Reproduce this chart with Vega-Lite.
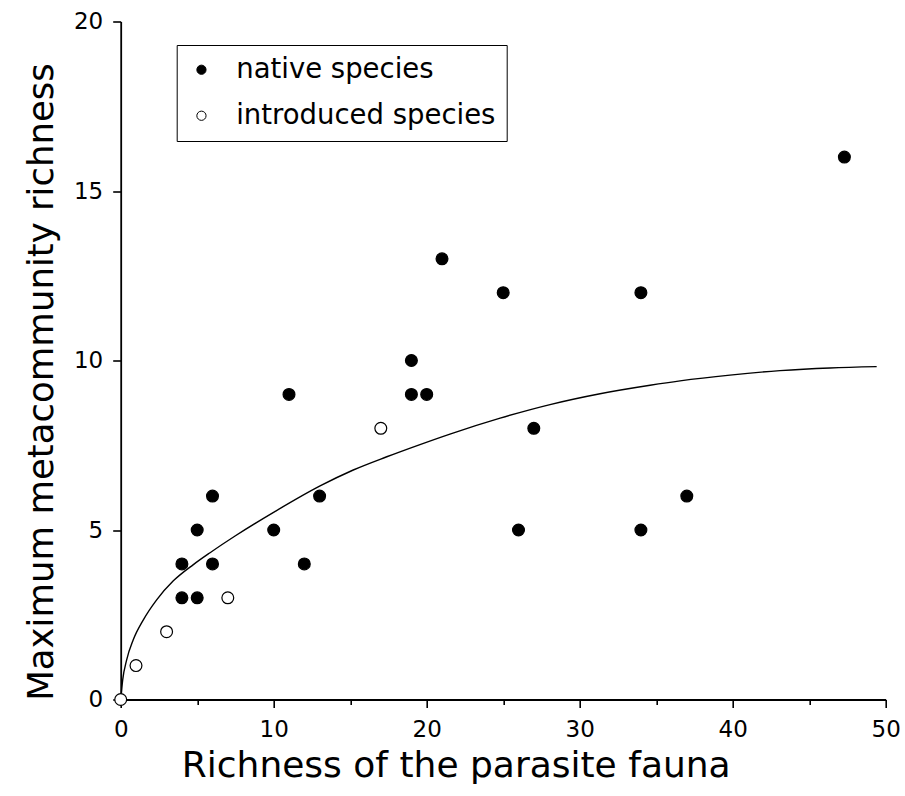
{
  "$schema": "https://vega.github.io/schema/vega-lite/v6.json",
  "width": 765,
  "height": 678,
  "autosize": {"type": "none"},
  "padding": {"left": 120.7, "top": 21.5, "right": 19.3, "bottom": 96.5},
  "background": "white",
  "config": {
    "view": {"stroke": null},
    "font": "DejaVu Sans",
    "axis": {
      "grid": false,
      "domainColor": "black",
      "domainWidth": 1.8,
      "tickColor": "black",
      "tickWidth": 1.6,
      "tickSize": 8,
      "labelColor": "black",
      "labelFont": "DejaVu Sans",
      "labelFontSize": 23,
      "labelFlush": false,
      "titleColor": "black",
      "titleFont": "DejaVu Sans",
      "titleFontWeight": "normal"
    }
  },
  "datasets": {
    "points": [
      {"parasite": 4, "richness": 3, "origin": "native species"},
      {"parasite": 4, "richness": 4, "origin": "native species"},
      {"parasite": 5, "richness": 3, "origin": "native species"},
      {"parasite": 5, "richness": 5, "origin": "native species"},
      {"parasite": 6, "richness": 4, "origin": "native species"},
      {"parasite": 6, "richness": 6, "origin": "native species"},
      {"parasite": 10, "richness": 5, "origin": "native species"},
      {"parasite": 11, "richness": 9, "origin": "native species"},
      {"parasite": 12, "richness": 4, "origin": "native species"},
      {"parasite": 13, "richness": 6, "origin": "native species"},
      {"parasite": 19, "richness": 10, "origin": "native species"},
      {"parasite": 19, "richness": 9, "origin": "native species"},
      {"parasite": 20, "richness": 9, "origin": "native species"},
      {"parasite": 21, "richness": 13, "origin": "native species"},
      {"parasite": 25, "richness": 12, "origin": "native species"},
      {"parasite": 26, "richness": 5, "origin": "native species"},
      {"parasite": 27, "richness": 8, "origin": "native species"},
      {"parasite": 34, "richness": 12, "origin": "native species"},
      {"parasite": 34, "richness": 5, "origin": "native species"},
      {"parasite": 37, "richness": 6, "origin": "native species"},
      {"parasite": 47.3, "richness": 16, "origin": "native species"},
      {"parasite": 0, "richness": 0, "origin": "introduced species"},
      {"parasite": 1, "richness": 1, "origin": "introduced species"},
      {"parasite": 3, "richness": 2, "origin": "introduced species"},
      {"parasite": 7, "richness": 3, "origin": "introduced species"},
      {"parasite": 17, "richness": 8, "origin": "introduced species"}
    ],
    "curve": [
      {"parasite": 0, "richness": 0},
      {"parasite": 0.13, "richness": 0.58},
      {"parasite": 0.39, "richness": 1.17},
      {"parasite": 0.82, "richness": 1.76},
      {"parasite": 1.48, "richness": 2.35},
      {"parasite": 2.35, "richness": 2.94},
      {"parasite": 3.44, "richness": 3.5},
      {"parasite": 4.75, "richness": 3.98},
      {"parasite": 5.84, "richness": 4.33},
      {"parasite": 7.5, "richness": 4.83},
      {"parasite": 10.1, "richness": 5.55},
      {"parasite": 13.03, "richness": 6.3},
      {"parasite": 15.2, "richness": 6.77},
      {"parasite": 17.39, "richness": 7.16},
      {"parasite": 19.56, "richness": 7.52},
      {"parasite": 21.52, "richness": 7.83},
      {"parasite": 24.8, "richness": 8.3},
      {"parasite": 28.06, "richness": 8.7},
      {"parasite": 31.33, "richness": 9.02},
      {"parasite": 34.6, "richness": 9.27},
      {"parasite": 36.56, "richness": 9.4},
      {"parasite": 39.82, "richness": 9.57},
      {"parasite": 43.09, "richness": 9.7},
      {"parasite": 46.36, "richness": 9.78},
      {"parasite": 49.41, "richness": 9.82}
    ]
  },
  "encoding": {
    "y": {
      "field": "richness",
      "type": "quantitative",
      "scale": {"domain": [0, 20], "nice": false},
      "axis": {
        "title": "Maximum metacommunity richness",
        "values": [0, 5, 10, 15, 20],
        "labelPadding": 10,
        "titleFontSize": 35.5,
        "titlePadding": 14,
        "titleY": 360
      }
    }
  },
  "layer": [
    {
      "data": {"name": "curve"},
      "mark": {"type": "line", "color": "black", "strokeWidth": 1.4, "interpolate": "monotone"},
      "encoding": {
        "x": {
          "field": "parasite",
          "type": "quantitative",
          "scale": {"domain": [0, 50], "nice": false},
          "axis": {
            "orient": "bottom",
            "values": [5, 15, 25, 35, 45],
            "labels": false,
            "domain": false,
            "tickSize": 5,
            "title": null
          }
        }
      }
    },
    {
      "data": {"name": "points"},
      "mark": {"type": "point", "filled": true, "stroke": "black", "strokeWidth": 1.2, "size": 140, "opacity": 1},
      "encoding": {
        "x": {
          "field": "parasite",
          "type": "quantitative",
          "scale": {"domain": [0, 50], "nice": false},
          "axis": {
            "orient": "bottom",
            "title": "Richness of the parasite fauna",
            "values": [0, 10, 20, 30, 40, 50],
            "labelPadding": 11,
            "titleFontSize": 36,
            "titlePadding": 7,
            "titleX": 335
          }
        },
        "fill": {
          "field": "origin",
          "type": "nominal",
          "scale": {"domain": ["native species", "introduced species"], "range": ["black", "white"]},
          "legend": {
            "title": null,
            "orient": "none",
            "legendX": 56,
            "legendY": 23.5,
            "strokeColor": "black",
            "fillColor": "white",
            "padding": 11,
            "labelFont": "DejaVu Sans",
            "labelFontSize": 27.5,
            "labelColor": "black",
            "labelOffset": 21,
            "labelLimit": 500,
            "rowPadding": 17,
            "symbolSize": 85,
            "symbolType": "circle",
            "symbolStrokeColor": "black",
            "symbolStrokeWidth": 1,
            "symbolOpacity": 1
          }
        }
      }
    }
  ],
  "resolve": {"axis": {"x": "independent"}}
}
